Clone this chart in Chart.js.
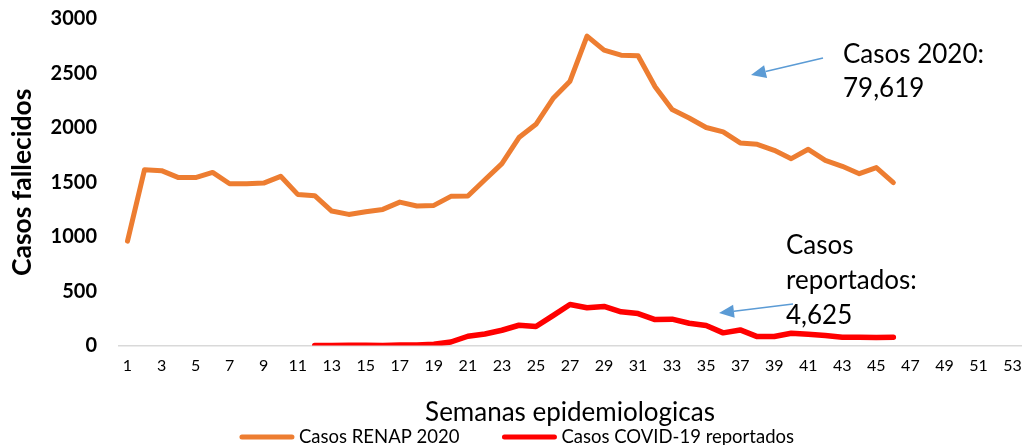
<!DOCTYPE html>
<html>
<head>
<meta charset="utf-8">
<script src="https://cdn.jsdelivr.net/npm/chart.js@4.4.1/dist/chart.umd.min.js"></script>
<style>
    html, body { margin: 0; padding: 0; background: #fff; }
    #wrap { width: 1024px; height: 445px; position: relative; }
</style>
</head>
<body>
<div id="wrap"><canvas id="deathsChart"></canvas></div>
<script>
// Semanas epidemiologicas
const weeks = ['1', '2', '3', '4', '5', '6', '7', '8', '9', '10', '11', '12', '13', '14', '15', '16', '17', '18',
    '19', '20', '21', '22', '23', '24', '25', '26', '27', '28', '29', '30', '31', '32', '33', '34', '35', '36',
    '37', '38', '39', '40', '41', '42', '43', '44', '45', '46', '47', '48', '49', '50', '51', '52', '53'];

// Casos RENAP 2020 (weeks 1-46)
const renapDeaths = [960, 1616, 1607, 1543, 1543, 1591, 1487, 1487, 1493, 1555, 1389, 1377, 1236, 1205, 1230,
    1251, 1318, 1282, 1288, 1371, 1374, 1524, 1671, 1911, 2033, 2269, 2429, 2843, 2714, 2668, 2662, 2377, 2168,
    2091, 2003, 1963, 1862, 1849, 1794, 1717, 1803, 1702, 1647, 1579, 1635, 1497];

// Casos COVID-19 reportados (start at week 12)
const covidReported = [null, null, null, null, null, null, null, null, null, null, null,
    0, 0, 3, 3, 2, 5, 5, 12, 33, 86, 107, 141, 187, 175, 275, 377, 347, 360, 310, 294, 239, 243, 205, 184,
    117, 144, 83, 83, 113, 104, 92, 76, 76, 74, 76];

const seriesNames = ['Casos RENAP 2020', 'Casos COVID-19 reportados'];
const seriesColors = ['#ED7D31', '#FF0000'];
const noteRenap = ['Casos 2020:', '79,619'];
const noteCovid = ['Casos', 'reportados:', '4,625'];

const FONT = 'Lato';

// legend drawn by hand so the spacing matches the original
const bottomLegend = {
    id: 'bottomLegend',
    afterDraw(chart) {
        const ctx = chart.ctx;
        const sets = chart.data.datasets;
        const sample = 54, textGap = 5, itemGap = 43, y = 437;
        ctx.save();
        ctx.font = '18.5px ' + FONT;
        const widths = sets.map(ds => ctx.measureText(ds.label).width);
        const total = widths.reduce((a, b) => a + b, 0) + sets.length * (sample + textGap) + itemGap * (sets.length - 1);
        let x = chart.width / 2 + 5 - total / 2;
        sets.forEach((ds, i) => {
            ctx.strokeStyle = ds.borderColor;
            ctx.lineWidth = 5;
            ctx.lineCap = 'round';
            ctx.beginPath();
            ctx.moveTo(x + 2, y);
            ctx.lineTo(x + sample - 2, y);
            ctx.stroke();
            ctx.fillStyle = '#000';
            ctx.textBaseline = 'middle';
            ctx.fillText(ds.label, x + sample + textGap, y);
            x += sample + textGap + widths[i] + itemGap;
        });
        ctx.restore();
    }
};

function drawArrow(ctx, x1, y1, x2, y2) {
    const ang = Math.atan2(y2 - y1, x2 - x1);
    const head = 15, half = 6.5;
    const bx = x2 - Math.cos(ang) * head, by = y2 - Math.sin(ang) * head;
    ctx.beginPath();
    ctx.moveTo(x1, y1);
    ctx.lineTo(bx, by);
    ctx.stroke();
    ctx.beginPath();
    ctx.moveTo(x2, y2);
    ctx.lineTo(bx + Math.sin(ang) * half, by - Math.cos(ang) * half);
    ctx.lineTo(bx - Math.sin(ang) * half, by + Math.cos(ang) * half);
    ctx.closePath();
    ctx.fill();
}

const totalsNotes = {
    id: 'totalsNotes',
    afterDraw(chart) {
        const ctx = chart.ctx;
        ctx.save();
        ctx.font = '26px ' + FONT;
        ctx.fillStyle = '#000';
        ctx.textBaseline = 'alphabetic';
        noteRenap.forEach((t, i) => ctx.fillText(t, 843, 63 + i * 34));
        noteCovid.forEach((t, i) => ctx.fillText(t, 786, 254 + i * 35));

        ctx.strokeStyle = '#5B9BD5';
        ctx.fillStyle = '#5B9BD5';
        ctx.lineWidth = 1.5;
        drawArrow(ctx, 823, 58, 751, 75);
        drawArrow(ctx, 793, 304, 719, 313);
        ctx.restore();
    }
};

const ctx = document.getElementById('deathsChart');
new Chart(ctx, {
    type: 'line',
    data: {
        labels: weeks,
        datasets: [{
            label: seriesNames[0],
            data: renapDeaths,
            borderColor: seriesColors[0],
            backgroundColor: seriesColors[0],
            borderWidth: 5,
            borderCapStyle: 'round',
            borderJoinStyle: 'round',
            pointRadius: 0,
            tension: 0,
            fill: false
        }, {
            label: seriesNames[1],
            data: covidReported,
            borderColor: seriesColors[1],
            backgroundColor: seriesColors[1],
            borderWidth: 5.5,
            borderCapStyle: 'round',
            borderJoinStyle: 'round',
            pointRadius: 0,
            tension: 0,
            fill: false
        }]
    },
    options: {
        responsive: true,
        maintainAspectRatio: false,
        animation: false,
        layout: {
            padding: { top: 19, right: 3, bottom: 17, left: 0 }
        },
        scales: {
            x: {
                offset: true,
                grid: { display: false, drawTicks: false },
                border: { display: true, color: '#d9d9d9', width: 1.5 },
                ticks: {
                    autoSkip: false,
                    maxRotation: 0,
                    minRotation: 0,
                    padding: 11,
                    color: '#000',
                    font: { family: FONT, size: 16 },
                    callback(value, index) {
                        return index % 2 === 0 ? this.getLabelForValue(value) : '';
                    }
                },
                title: {
                    display: true,
                    text: 'Semanas epidemiologicas',
                    color: '#000',
                    font: { family: FONT, size: 26 },
                    padding: { top: 10, bottom: 0 }
                },
                afterFit(scale) {
                    scale.paddingLeft = 0;
                    scale.paddingRight = 0;
                }
            },
            y: {
                min: 0,
                max: 3000,
                grid: { display: false, drawTicks: false },
                border: { display: false },
                ticks: {
                    stepSize: 500,
                    padding: 22,
                    color: '#000',
                    font: { family: FONT, size: 20, weight: 'bold' },
                    callback: value => String(value)
                },
                title: {
                    display: true,
                    text: 'Casos fallecidos',
                    color: '#000',
                    font: { family: FONT, size: 26.5, weight: 'bold' },
                    padding: { top: 7, bottom: 0 }
                },
                afterFit(scale) {
                    scale.width = 119;
                    scale.paddingTop = 0;
                    scale.paddingBottom = 0;
                }
            }
        },
        plugins: {
            legend: { display: false },
            tooltip: { enabled: false }
        }
    },
    plugins: [bottomLegend, totalsNotes]
});
</script>
</body>
</html>
